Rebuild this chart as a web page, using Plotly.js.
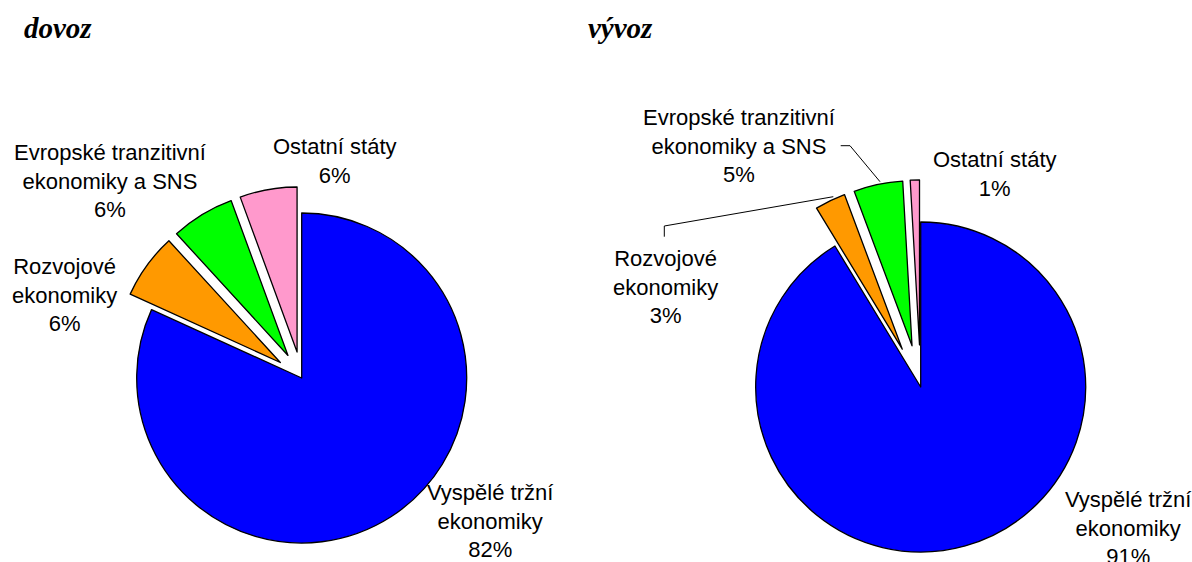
<!DOCTYPE html>
<html>
<head>
<meta charset="utf-8">
<script src="https://cdn.plot.ly/plotly-3.0.1.min.js"></script>
<style>
  html, body { margin: 0; padding: 0; background: #fff; overflow: hidden; }
  #wrap { width: 1192px; height: 562px; overflow: hidden; position: relative; }
  #chart { width: 1192px; height: 800px; }
</style>
</head>
<body>
<div id="wrap"><div id="chart"></div></div>
<script>
// ---- data ----
var categories = ['Vyspělé tržní ekonomiky', 'Rozvojové ekonomiky', 'Evropské tranzitivní ekonomiky a SNS', 'Ostatní státy'];
var labelLines = ['Vyspělé tržní<br>ekonomiky', 'Rozvojové<br>ekonomiky', 'Evropské tranzitivní<br>ekonomiky a SNS', 'Ostatní státy'];
var dovozValues = [81.8, 6.4, 6.2, 5.6];
var vyvozValues = [91.3, 3.0, 4.8, 0.9];
var chartTitles = ['dovoz', 'vývoz'];
var sliceColors = ['#0000FF', '#FF9900', '#00FF00', '#FF99CC'];

// ---- layout helpers ----
var W = 1192, H = 800;
function px(x) { return x / W; }
function py(y) { return (H - y) / H; }

function pct(vals, i) {
  var s = vals.reduce(function (a, b) { return a + b; }, 0);
  return Math.round(vals[i] / s * 100 + 1e-9) + '%';
}

var pieCommon = {
  type: 'pie',
  labels: categories,
  sort: false,
  direction: 'clockwise',
  rotation: 0,
  textinfo: 'none',
  hoverinfo: 'label+percent',
  showlegend: false,
  marker: { colors: sliceColors, line: { color: '#000000', width: 1.3 } }
};

var traceDovoz = Object.assign({}, pieCommon, {
  values: dovozValues,
  pull: [0, 0.16, 0.16, 0.16],
  domain: { x: [0.09253, 0.41367], y: [0.28825, 0.76675] }
});
var traceVyvoz = Object.assign({}, pieCommon, {
  values: vyvozValues,
  pull: [0, 0.255, 0.255, 0.255],
  domain: { x: [0.59866, 0.94614], y: [0.25738, 0.77513] }
});

var labelFont = { family: 'Liberation Sans, Arial, sans-serif', size: 22, color: '#000' };
var titleFont = { family: 'Liberation Serif, Times New Roman, serif', size: 29, color: '#000', weight: 'bold', style: 'italic' };

// label block centres (pixels)
var dovozLabelPos = [[490, 521], [64, 295], [110, 181], [335, 161]];
var vyvozLabelPos = [[1128, 528], [665, 287], [739, 146], [995, 174]];

var annotations = [];
function addLabels(vals, pos) {
  for (var i = 0; i < categories.length; i++) {
    annotations.push({
      xref: 'paper', yref: 'paper',
      x: px(pos[i][0]), y: py(pos[i][1]),
      xanchor: 'center', yanchor: 'middle',
      text: labelLines[i] + '<br>' + pct(vals, i),
      showarrow: false, align: 'center', font: labelFont
    });
  }
}
addLabels(dovozValues, dovozLabelPos);
addLabels(vyvozValues, vyvozLabelPos);

annotations.push({ xref: 'paper', yref: 'paper', x: px(22), y: py(28), xanchor: 'left', yanchor: 'middle',
  text: chartTitles[0], showarrow: false, font: titleFont });
annotations.push({ xref: 'paper', yref: 'paper', x: px(586), y: py(28), xanchor: 'left', yanchor: 'middle',
  text: chartTitles[1], showarrow: false, font: titleFont });

function pathFrom(points) {
  return points.map(function (p, i) {
    return (i === 0 ? 'M ' : 'L ') + px(p[0]) + ' ' + py(p[1]);
  }).join(' ');
}

var shapes = [
  { type: 'path', xref: 'paper', yref: 'paper',
    path: pathFrom([[840.7, 145.7], [850, 145.7], [880, 181.7]]),
    line: { color: '#000', width: 1 } },
  { type: 'path', xref: 'paper', yref: 'paper',
    path: pathFrom([[664.3, 236.7], [664.3, 226], [833.3, 196.7]]),
    line: { color: '#000', width: 1 } }
];

var layout = {
  width: W, height: H,
  margin: { l: 0, r: 0, t: 0, b: 0 },
  paper_bgcolor: '#ffffff',
  plot_bgcolor: '#ffffff',
  annotations: annotations,
  shapes: shapes
};

Plotly.newPlot('chart', [traceDovoz, traceVyvoz], layout, { displayModeBar: false, staticPlot: true });
</script>
</body>
</html>
